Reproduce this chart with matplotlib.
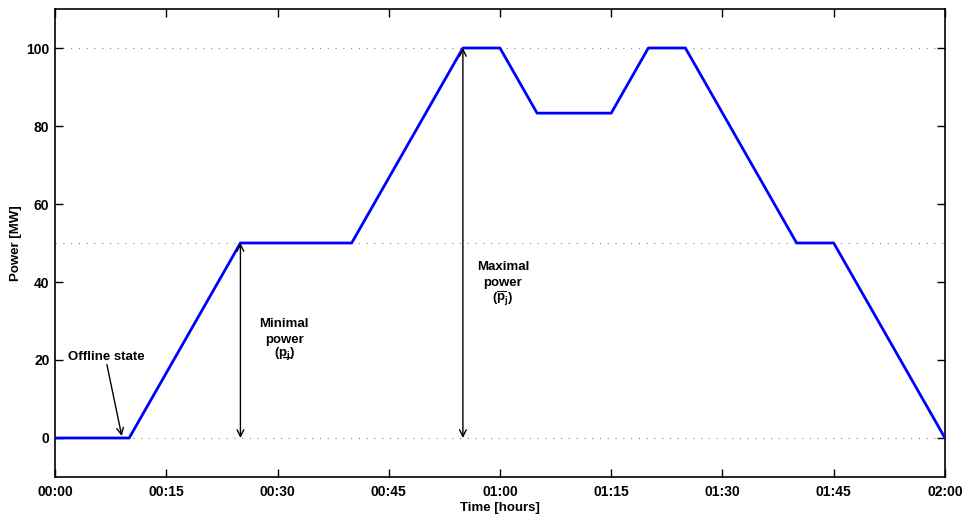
import matplotlib
matplotlib.use("Agg")
import matplotlib.pyplot as plt
from matplotlib.ticker import FixedLocator

plt.rcParams['font.family'] = ['Liberation Sans', 'DejaVu Sans']
plt.rcParams['font.weight'] = 'bold'
plt.rcParams['mathtext.fontset'] = 'custom'
plt.rcParams['mathtext.rm'] = 'Liberation Sans:bold'
plt.rcParams['mathtext.it'] = 'Liberation Sans:bold'
plt.rcParams['mathtext.bf'] = 'Liberation Sans:bold'

# data (minutes, MW)
time_min = [0, 10, 25, 40, 55, 60, 65, 75, 80, 85, 100, 105, 120]
power_mw = [0, 0, 50, 50, 100, 100, 83.3, 83.3, 100, 100, 50, 50, 0]
x_ticks = [0, 15, 30, 45, 60, 75, 90, 105, 120]
x_tick_labels = ['00:00', '00:15', '00:30', '00:45', '01:00', '01:15', '01:30', '01:45', '02:00']
y_ticks = [0, 20, 40, 60, 80, 100]
grid_levels = [0, 50, 100]

fig = plt.figure(figsize=(9.67, 5.15), dpi=100)
ax = fig.add_axes([0.0569, 0.0738, 0.9203, 0.9087])

for g in grid_levels:
    ax.axhline(g, color='#888888', linestyle=(0, (1, 6)), linewidth=0.8, zorder=1)

ax.plot(time_min, power_mw, color='#0000ff', linewidth=2.0, zorder=3)

ax.set_xlim(0, 120)
ax.set_ylim(-10, 110)
ax.xaxis.set_major_locator(FixedLocator(x_ticks))
ax.set_xticklabels(x_tick_labels)
ax.set_yticks(y_ticks)
ax.tick_params(direction='in', length=6, width=1, top=True, right=True,
               labelsize=10)
ax.tick_params(axis='y', pad=4)
ax.tick_params(axis='x', pad=6)
for lab in ax.get_xticklabels() + ax.get_yticklabels():
    lab.set_fontweight('bold')
for s in ax.spines.values():
    s.set_linewidth(1.2)

ax.set_xlabel('Time [hours]', fontsize=9.5, fontweight='bold', labelpad=2)
ax.set_ylabel('Power [MW]', fontsize=9.5, fontweight='bold', labelpad=3)

arrow = dict(arrowstyle='<->', color='black', lw=1.0, mutation_scale=12, shrinkA=0, shrinkB=0)
ax.annotate('', xy=(25, 0), xytext=(25, 50), arrowprops=arrow, zorder=4)
ax.annotate('', xy=(55, 0), xytext=(55, 100), arrowprops=arrow, zorder=4)

ax.text(6.9, 20.8, 'Offline state', ha='center', va='center',
        fontsize=9.5, fontweight='bold')
ax.annotate('', xy=(9.0, 0.5), xytext=(7.0, 18.8),
            arrowprops=dict(arrowstyle='->', color='black', lw=1.0,
                            mutation_scale=12, shrinkA=0, shrinkB=0))

ax.text(30.9, 29.2, 'Minimal', ha='center', va='center', fontsize=9.5, fontweight='bold')
ax.text(30.9, 25.1, 'power', ha='center', va='center', fontsize=9.5, fontweight='bold')
ax.text(30.9, 21.6, '(p\u0332$_j$)', ha='center', va='center',
        fontsize=9.5, fontweight='bold')

ax.text(60.4, 43.8, 'Maximal', ha='center', va='center', fontsize=9.5, fontweight='bold')
ax.text(60.4, 39.7, 'power', ha='center', va='center', fontsize=9.5, fontweight='bold')
ax.text(60.4, 35.6, r'($\overline{\mathrm{p}}_j$)', ha='center', va='center',
        fontsize=9.5, fontweight='bold')

fig.savefig('out.png', dpi=100)
